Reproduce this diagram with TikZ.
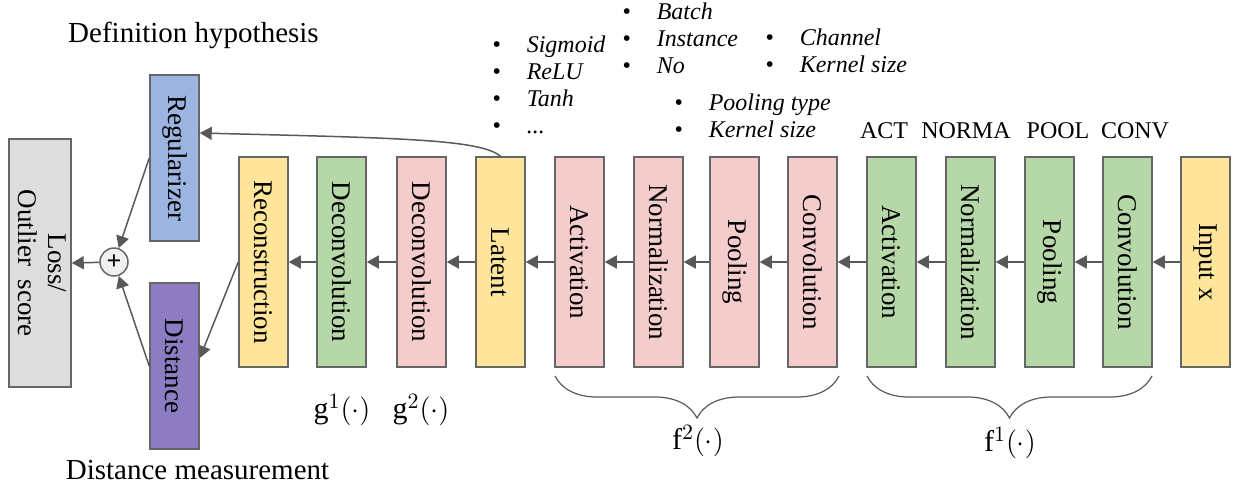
\documentclass[tikz,border=0pt]{standalone}
\usepackage{fontspec}
\setmainfont{Liberation Serif}
\usetikzlibrary{arrows.meta,decorations.pathreplacing}

\definecolor{linec}{HTML}{666666}
\definecolor{arrc}{HTML}{595959}
\definecolor{pinkc}{HTML}{F4CCCC}
\definecolor{greenc}{HTML}{B6D7A8}
\definecolor{yellowc}{HTML}{FFE599}
\definecolor{bluec}{HTML}{9BB4E0}
\definecolor{purplec}{HTML}{8E7CC3}
\definecolor{grayc}{HTML}{DDDDDD}

\tikzset{
	box/.style={draw=linec, line width=0.75pt, minimum width=24.5pt, minimum height=105pt, inner sep=0pt, font=\fontsize{13.5}{15}\selectfont},
	sidebox/.style={box, minimum height=83pt},
	arr/.style={draw=arrc, line width=0.75pt, -{Triangle[length=6pt,width=6.5pt]}},
	brc/.style={draw=arrc, line width=0.6pt, decorate, decoration={brace, amplitude=21pt}},
	opts/.style={anchor=base west, inner sep=0pt, font=\fontsize{12}{13.5}\selectfont\itshape},
	hdr/.style={anchor=base, inner sep=0pt, font=\fontsize{12}{14}\selectfont},
	ttl/.style={anchor=base, inner sep=0pt, font=\fontsize{14.5}{16}\selectfont},
	fun/.style={inner sep=0pt, font=\fontsize{15}{17}\selectfont},
}

\begin{document}
\begin{tikzpicture}[x=0.5pt, y=-0.5pt]

	\useasboundingbox (0,0) rectangle (1233,488);

	% decoder side
	\node[box, fill=grayc, minimum width=31pt, minimum height=124pt] (loss) at (40,263)
		{\rotatebox{-90}{\begin{tabular}{@{}c@{}}Loss/\\Outlier\ \ score\end{tabular}}};
	\node[sidebox, fill=bluec] (reg) at (174.5,158) {\rotatebox{-90}{Regularizer}};
	\node[sidebox, fill=purplec] (dist) at (174.5,366) {\rotatebox{-90}{Distance}};
	\node[circle, draw=linec, fill=gray!12, line width=0.75pt, minimum size=14pt, inner sep=0pt, font=\fontsize{13}{13}\selectfont] (sum) at (114,262) {\textbf{+}};

	\node[box, fill=yellowc] (rec) at (263.5,262) {\rotatebox{-90}{Reconstruction}};
	\node[box, fill=greenc] (dcone) at (341.5,262) {\rotatebox{-90}{Deconvolution}};
	\node[box, fill=pinkc] (dctwo) at (421.5,262) {\rotatebox{-90}{Deconvolution}};
	\node[box, fill=yellowc] (lat) at (500.5,262) {\rotatebox{-90}{Latent}};

	% encoder, second block
	\node[box, fill=pinkc] (actb) at (579.5,262) {\rotatebox{-90}{Activation}};
	\node[box, fill=pinkc] (normb) at (658.5,262) {\rotatebox{-90}{Normalization}};
	\node[box, fill=pinkc] (poolb) at (734.5,262) {\rotatebox{-90}{Pooling}};
	\node[box, fill=pinkc] (convb) at (812.5,262) {\rotatebox{-90}{Convolution}};

	% encoder, first block
	\node[box, fill=greenc] (acta) at (891.5,262) {\rotatebox{-90}{Activation}};
	\node[box, fill=greenc] (norma) at (970.5,262) {\rotatebox{-90}{Normalization}};
	\node[box, fill=greenc] (poola) at (1049.5,262) {\rotatebox{-90}{Pooling}};
	\node[box, fill=greenc] (conva) at (1127.5,262) {\rotatebox{-90}{Convolution}};
	\node[box, fill=yellowc] (inx) at (1205.5,262) {\rotatebox{-90}{Input x}};

	\foreach \a/\b in {inx/conva, conva/poola, poola/norma, norma/acta, acta/convb, convb/poolb, poolb/normb, normb/actb, actb/lat, lat/dctwo, dctwo/dcone, dcone/rec}
		\draw[arr] (\a.west) -- (\b.east);

	\draw[arr] (lat.north) .. controls +(-20,-17) and +(200,5) .. ([yshift=12.5pt]reg.east);
	\draw[arr] (rec.west) -- ([yshift=4pt]dist.east);
	\draw[arr] (reg.west) -- (sum);
	\draw[arr] (dist.west) -- (sum);
	\draw[arr] (sum) -- (loss.east);

	% titles
	\node[ttl] (defh) at (193.5,42) {Definition hypothesis};
	\node[ttl] (distm) at (197.5,479) {Distance measurement};

	\node[hdr] (hact) at (884,138) {ACT};
	\node[hdr] (hnorm) at (966,138) {NORMA};
	\node[hdr] (hpool) at (1058,138) {POOL};
	\node[hdr] (hconv) at (1135,138) {CONV};

	% option lists
	\node[opts] (optact) at (492,52) {\begin{tabular}[t]{@{}l@{\hspace{13pt}}l@{}}
		\textbullet & Sigmoid\\ \textbullet & ReLU\\ \textbullet & Tanh\\ \textbullet & ...\end{tabular}};
	\node[opts] (optnorm) at (622,19) {\begin{tabular}[t]{@{}l@{\hspace{13pt}}l@{}}
		\textbullet & Batch\\ \textbullet & Instance\\ \textbullet & No\end{tabular}};
	\node[opts] (optconv) at (765,45) {\begin{tabular}[t]{@{}l@{\hspace{13pt}}l@{}}
		\textbullet & Channel\\ \textbullet & Kernel size\end{tabular}};
	\node[opts] (optpool) at (674,110) {\begin{tabular}[t]{@{}l@{\hspace{13pt}}l@{}}
		\textbullet & Pooling type\\ \textbullet & Kernel size\end{tabular}};

	% functions
	\node[fun] (gone) at (342,410) {g$^{1}(\cdot)$};
	\node[fun] (gtwo) at (421,410) {g$^{2}(\cdot)$};

	\draw[brc] (839,376) -- (555,376);
	\draw[brc] (1152,376) -- (867,376);
	\node[fun] (ftwo) at (698,441) {f$^{2}(\cdot)$};
	\node[fun] (fone) at (1010,443) {f$^{1}(\cdot)$};

\end{tikzpicture}
\end{document}
